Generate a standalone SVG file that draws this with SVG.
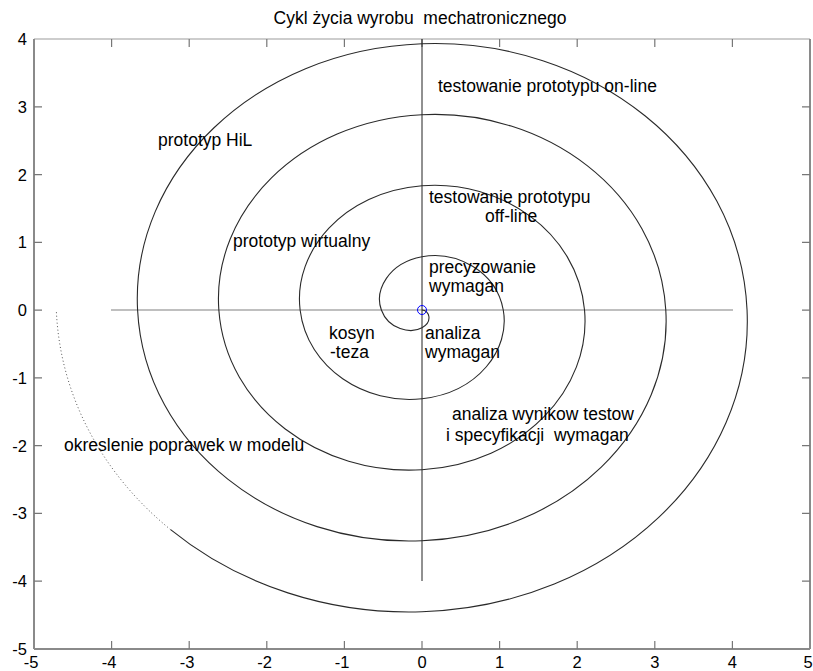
<svg xmlns="http://www.w3.org/2000/svg" width="813" height="671" viewBox="0 0 813 671">
<style>
text{font-family:"Liberation Sans",Arial,sans-serif;fill:#000}
.lbl{font-size:17.5px}
.tk{font-size:16.5px}
.tick{stroke:#777;stroke-width:1.2}
.spiral{fill:none;stroke:#2a2a2a;stroke-width:1.1}
</style>
<rect x="0" y="0" width="813" height="671" fill="#fff"/>
<g id="title"><text class="lbl" x="420" y="24" text-anchor="middle" xml:space="preserve">Cykl życia wyrobu  mechatronicznego</text></g>
<g id="axes">
<line x1="34" y1="39" x2="810" y2="39" stroke="#bdbdbd" stroke-width="1.5"/>
<line x1="34" y1="39" x2="34" y2="649" stroke="#8a8a8a" stroke-width="2"/>
<line x1="34" y1="649" x2="810" y2="649" stroke="#8a8a8a" stroke-width="2"/>
<line x1="810" y1="39" x2="810" y2="649" stroke="#8a8a8a" stroke-width="2"/>
<g class="tick">
<path d="M111.6 649v-8M189.2 649v-8M266.8 649v-8M344.4 649v-8M422 649v-8M499.6 649v-8M577.2 649v-8M654.8 649v-8M732.4 649v-8"/>
<path d="M111.6 39v8M189.2 39v8M266.8 39v8M344.4 39v8M422 39v8M499.6 39v8M577.2 39v8M654.8 39v8M732.4 39v8"/>
<path d="M34 106.8h8M34 174.6h8M34 242.3h8M34 310.1h8M34 377.9h8M34 445.7h8M34 513.4h8M34 581.2h8"/>
<path d="M810 106.8h-8M810 174.6h-8M810 242.3h-8M810 310.1h-8M810 377.9h-8M810 445.7h-8M810 513.4h-8M810 581.2h-8"/>
</g>
<g text-anchor="end">
<text class="tk" x="27" y="45">4</text>
<text class="tk" x="27" y="112.8">3</text>
<text class="tk" x="27" y="180.6">2</text>
<text class="tk" x="27" y="248.3">1</text>
<text class="tk" x="27" y="316.1">0</text>
<text class="tk" x="27" y="383.9">-1</text>
<text class="tk" x="27" y="451.7">-2</text>
<text class="tk" x="27" y="519.4">-3</text>
<text class="tk" x="27" y="587.2">-4</text>
<text class="tk" x="27" y="655">-5</text>
</g>
<g text-anchor="middle">
<text class="tk" x="31" y="668">-5</text>
<text class="tk" x="109" y="668">-4</text>
<text class="tk" x="187" y="668">-3</text>
<text class="tk" x="264.5" y="668">-2</text>
<text class="tk" x="342" y="668">-1</text>
<text class="tk" x="422" y="668">0</text>
<text class="tk" x="499.6" y="668">1</text>
<text class="tk" x="577.2" y="668">2</text>
<text class="tk" x="654.8" y="668">3</text>
<text class="tk" x="732.4" y="668">4</text>
<text class="tk" x="808" y="668">5</text>
</g>
</g>
<g id="connectors">
<line x1="111" y1="310" x2="733" y2="310" stroke="#aaa" stroke-width="1.5"/>
<line x1="422" y1="39" x2="422" y2="581" stroke="#222" stroke-width="1"/>
<path class="spiral" d="M422 310C429.14 310 433.22 321.51 422 327.75C410.78 333.99 388.51 329.61 381.37 310C374.23 290.39 388.34 262.99 422 256.75C455.66 250.51 496.12 270.79 503.26 310C510.41 349.21 478.10 392.51 422 398.75C365.90 404.99 307.25 368.82 300.11 310C292.96 251.18 343.46 191.99 422 185.75C500.54 179.51 577.38 231.58 584.53 310C591.67 388.42 522.98 463.51 422 469.75C321.02 475.99 225.99 408.03 218.84 310C211.70 211.97 298.58 120.99 422 114.75C545.42 108.51 658.64 192.360 665.79 310C672.93 427.64 567.86 534.51 422 540.75C276.14 546.99 144.72 447.24 137.58 310C130.44 172.76 253.70 49.99 422 43.75C590.30 37.51 739.91 153.15 747.05 310C754.19 466.85 612.74 605.51 422 611.75C330.40 614.75 239.71 585.78 170.61 529.65"/>
<path d="M170.61 529.65C101.51 473.51 59.75 394.74 56.32 310" fill="none" stroke="#555" stroke-width="1" stroke-dasharray="1 2.5"/>
<circle cx="422" cy="310" r="4.5" fill="none" stroke="#0000ff" stroke-width="1"/>
</g>
<g id="labels">
<text class="lbl" x="438" y="92">testowanie prototypu on-line</text>
<text class="lbl" x="158" y="146">prototyp HiL</text>
<text class="lbl" x="429" y="203">testowanie prototypu</text>
<text class="lbl" x="485" y="222">off-line</text>
<text class="lbl" x="233" y="247">prototyp wirtualny</text>
<text class="lbl" x="429" y="273">precyzowanie</text>
<text class="lbl" x="429" y="292">wymagan</text>
<text class="lbl" x="329" y="339">kosyn</text>
<text class="lbl" x="330" y="358">-teza</text>
<text class="lbl" x="425" y="339">analiza</text>
<text class="lbl" x="425" y="358">wymagan</text>
<text class="lbl" x="452" y="420">analiza wynikow testow</text>
<text class="lbl" x="446" y="441" xml:space="preserve">i specyfikacji  wymagan</text>
<text class="lbl" x="64" y="451">okreslenie poprawek w modelu</text>
</g>
</svg>
